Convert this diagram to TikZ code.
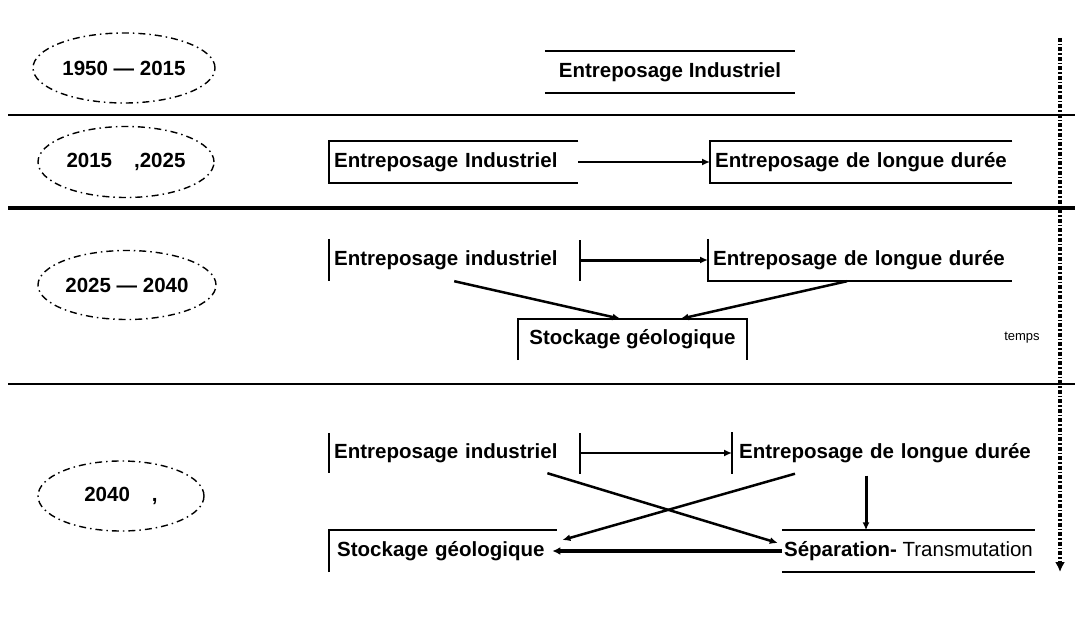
\documentclass[tikz,border=0pt]{standalone}
\usepackage{fontspec}
\setmainfont{Liberation Sans}
\usetikzlibrary{shapes.geometric,arrows.meta,calc}
\tikzset{
  lbl/.style={font=\bfseries\fontsize{20.5}{24}\selectfont, inner ysep=0pt, inner xsep=5pt, anchor=west, align=left},
  mid/.style={font=\bfseries\fontsize{20.5}{24}\selectfont, inner sep=0pt, align=center},
  yr/.style={ellipse, draw, line width=1.4pt, dash pattern=on 7pt off 4pt on 1.5pt off 4pt,
    font=\bfseries\fontsize{20.5}{24}\selectfont, inner sep=0pt},
  rim/.style={line width=1.8pt},
  tip/.style={-{Latex[length=8pt,width=7pt]}},
  barto/.style={{Bar[width=41pt,line width=1.6pt]}-{Latex[length=8pt,width=7pt]}},
}
\begin{document}
\begin{tikzpicture}[x=1pt,y=-1pt]
    \useasboundingbox (0,0) rectangle (1075,631);
    % periods
    \node[yr, minimum width=182, minimum height=70] (yr1) at (124,68) {1950 \textemdash{} 2015};
    \node[yr, minimum width=176, minimum height=71] (yr2) at (126,162) {2015\hspace{22pt},2025};
    \node[yr, minimum width=178, minimum height=69] (yr3) at (127,285) {2025 \textemdash{} 2040};
    \node[yr, minimum width=166, minimum height=70] (yr4) at (121,496) {2040\hspace{22pt},\hspace{24pt}};
    \draw[line width=2pt] (8,115) -- (1075,115);
    \draw[line width=4pt] (8,208) -- (1075,208);
    \draw[line width=2pt] (8,384) -- (1075,384);
    % 1950-2015
    \node[mid, minimum width=250, minimum height=42] (ind1) at (670,72) {Entreposage Industriel};
    \draw[rim] (ind1.north west) -- (ind1.north east) (ind1.south west) -- (ind1.south east);
    % 2015-2025
    \node[lbl, text width=239, minimum height=42] (ind2) at (329,162) {Entreposage Industriel};
    \node[lbl, text width=292, minimum height=42] (long2) at (710,162) {Entreposage de longue durée};
    \draw[rim] (ind2.north east) -- (ind2.north west) -- (ind2.south west) -- (ind2.south east);
    \draw[rim] (long2.north east) -- (long2.north west) -- (long2.south west) -- (long2.south east);
    \draw[line width=1.5pt, tip] (ind2.east) -- (long2.west);
    % 2025-2040
    \node[lbl, text width=240, minimum height=42] (ind3) at (329,260) {Entreposage industriel};
    \node[lbl, text width=294, minimum height=42] (long3) at (708,260) {Entreposage de longue durée};
    \node[mid, minimum width=229, minimum height=41] (stock3) at (632.5,339.5) {Stockage géologique};
    \draw[rim] (ind3.north west) -- (ind3.south west);
    \draw[rim] (long3.north west) -- (long3.south west) -- (long3.south east);
    \draw[rim] (stock3.south west) -- (stock3.north west) -- (stock3.north east) -- (stock3.south east);
    \draw[line width=3pt, barto] (ind3.east) -- (long3.west);
    \draw[line width=2.5pt, tip] (ind3.south) -- ($(stock3.north)+(-12,0)$);
    \draw[line width=2.5pt, tip] ($(long3.south west)+(139,0)$) -- ($(stock3.north)+(48,0)$);
    % 2040
    \node[lbl, text width=240, minimum height=40] (ind4) at (329,453) {Entreposage industriel};
    \node[lbl, inner xsep=7pt, text width=300, minimum height=41] (long4) at (732,453) {Entreposage de longue durée};
    \node[lbl, inner xsep=8pt, text width=212, minimum height=42] (stock4) at (329,551) {Stockage géologique};
    \node[mid, minimum width=253, minimum height=41] (sep4) at (908.5,551) {Séparation- \mdseries Transmutation};
    \draw[rim] (ind4.north west) -- (ind4.south west);
    \draw[rim] (long4.north west) -- (long4.south west);
    \draw[rim] (stock4.south west) -- (stock4.north west) -- (stock4.north east);
    \draw[rim] (sep4.north west) -- (sep4.north east) (sep4.south west) -- (sep4.south east);
    \draw[line width=1.5pt, barto] (ind4.east) -- (long4.west);
    \draw[line width=2.5pt, tip] ($(ind4.south east)+(-32,0)$) -- ($(sep4.west)+(-4,-8)$);
    \draw[line width=2.5pt, tip] ($(long4.south west)+(63,0)$) -- ($(stock4.east)+(5,-11)$);
    \coordinate (v) at ($(long4.south west)+(134,2)$);
    \draw[line width=3pt, tip] (v) -- (v |- sep4.north);
    \draw[line width=4pt, -{Latex[length=8pt,width=8pt]}, shorten >=-5pt] (sep4.west) -- (stock4.east);
    % time axis
    \coordinate (t0) at (1060,38);
    \coordinate (t1) at (1060,572);
    \draw[line width=3.5pt, dash pattern=on 4pt off 2pt on 1.5pt off 2pt, -{Latex[length=10pt,width=10pt]}] (t0) -- (t1);
    \node[font=\fontsize{13}{14}\selectfont, inner sep=0pt] (tps) at (1022,338) {temps};
\end{tikzpicture}
\end{document}
